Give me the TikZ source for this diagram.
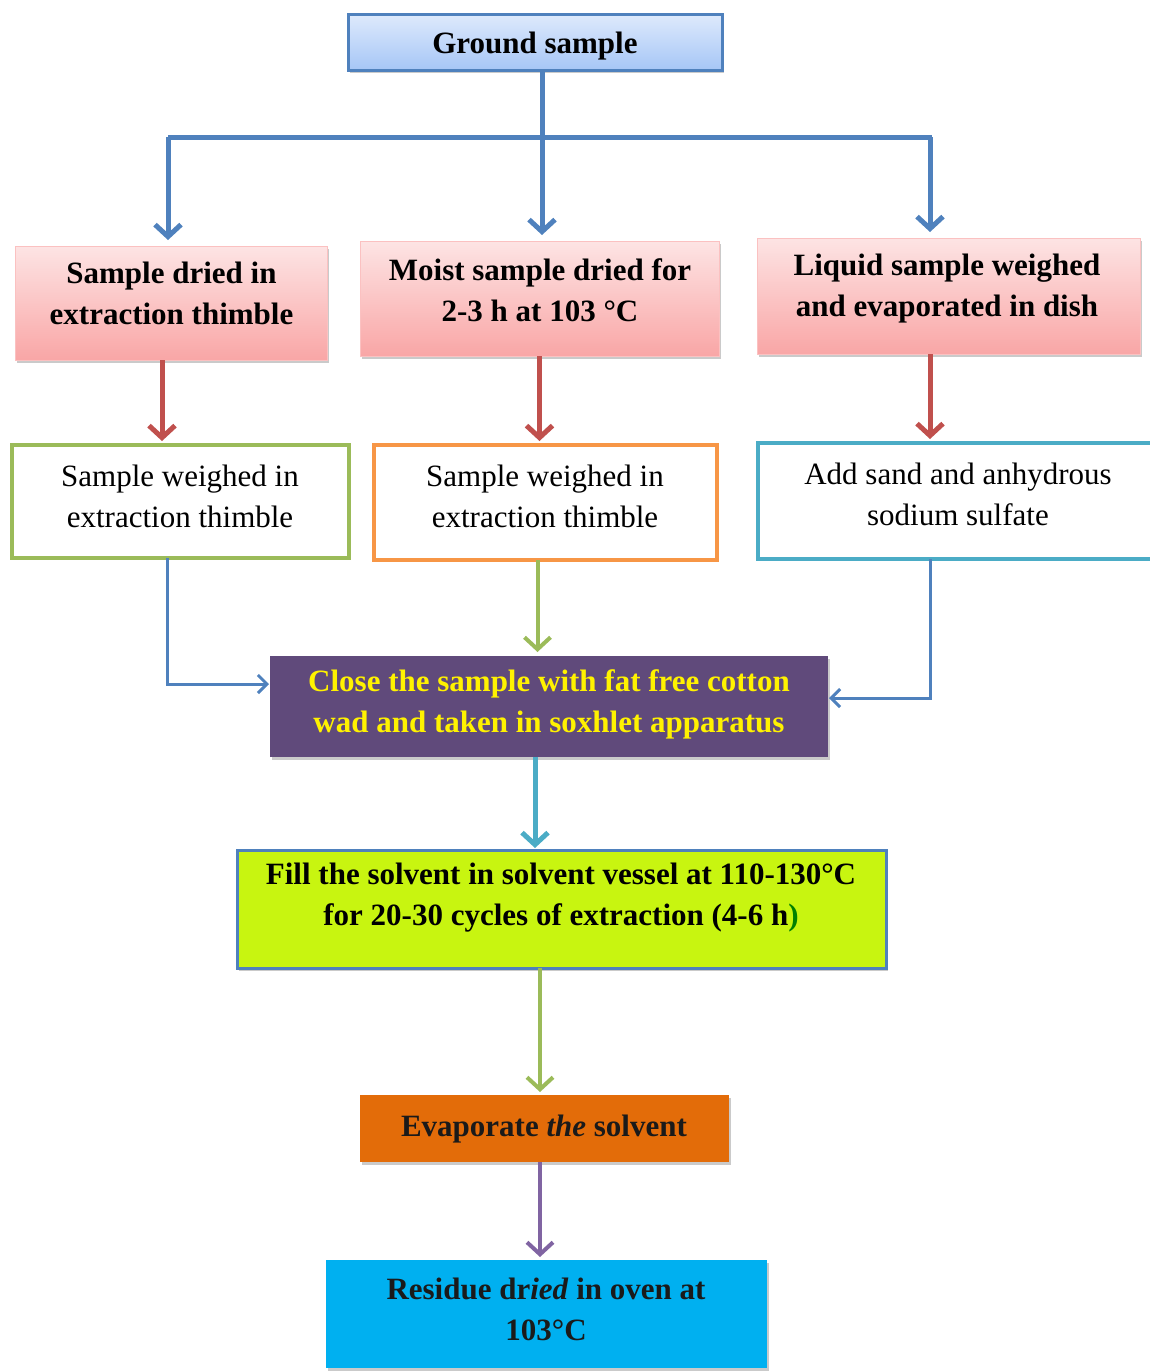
\documentclass[tikz,border=0pt]{standalone}
\usepackage{fontspec}
\setmainfont{Liberation Serif}
\usetikzlibrary{arrows.meta,shadows}

\definecolor{lineblue}{HTML}{4F81BD}
\definecolor{linered}{HTML}{C0504D}
\definecolor{linegreen}{HTML}{9BBB59}
\definecolor{lineorange}{HTML}{F79646}
\definecolor{lineteal}{HTML}{4BACC6}
\definecolor{linepurple}{HTML}{8064A2}
\definecolor{plum}{HTML}{604A7B}
\definecolor{limefill}{HTML}{C8F510}
\definecolor{orangefill}{HTML}{E36C09}
\definecolor{cyanfill}{HTML}{00B0F0}
\definecolor{pinktop}{HTML}{FDE4E4}
\definecolor{pinkbot}{HTML}{F9A6A6}
\definecolor{bluetop}{HTML}{DEEAFC}
\definecolor{bluebot}{HTML}{A6C6F6}
\definecolor{darkink}{HTML}{1A1A1A}

\begin{document}
\begin{tikzpicture}[x=1pt,y=-1pt,
  big/.style={font=\fontsize{31}{41}\selectfont},
  box/.style={rectangle,inner sep=0pt,outer sep=0pt},
  shade/.style={drop shadow={shadow xshift=1.5pt,shadow yshift=-3pt,opacity=.35,fill=black!60}},
  txt/.style={big,align=center,inner sep=0pt},
  btxt/.style={txt,font=\fontsize{31}{41}\selectfont\bfseries},
  topbox/.style={box,shade,top color=bluetop,bottom color=bluebot,draw=lineblue,line width=3pt},
  pinkbox/.style={box,shade,top color=pinktop,bottom color=pinkbot,draw=pinkbot!70!white,line width=0.6pt},
  whitebox/.style={box,fill=white,line width=4pt},
  bus/.style={draw=lineblue,line width=5pt},
  barb/.style={-{Straight Barb[length=12pt,width=26pt]}},
  smallbarb/.style={-{Straight Barb[length=9pt,width=18pt]}},
  busarrow/.style={bus,barb,shorten >=6pt},
  redarrow/.style={draw=linered,line width=5pt,barb,shorten >=4pt},
  thinarrow/.style={draw=lineblue,line width=3pt,smallbarb,shorten >=1pt},
]
\useasboundingbox (0,0) rectangle (1149,1371);

% boxes
\node[topbox,minimum width=374pt,minimum height=56pt] (gs) at (535,42) {};
\node[pinkbox,minimum width=312pt,minimum height=114pt] (p1) at (171,303) {};
\node[pinkbox,minimum width=359pt,minimum height=115pt] (p2) at (539.5,298.5) {};
\node[pinkbox,minimum width=383pt,minimum height=116pt] (p3) at (948.5,296) {};
\node[whitebox,draw=linegreen,minimum width=337pt,minimum height=113pt] (w1) at (180.5,501.5) {};
\node[whitebox,draw=lineorange,minimum width=343pt,minimum height=115pt] (w2) at (545.5,502.5) {};
\node[whitebox,draw=lineteal,minimum width=402pt,minimum height=116pt] (w3) at (959,501) {};
\node[box,shade,fill=plum,minimum width=558pt,minimum height=101pt] (cl) at (549,706.5) {};
\node[box,shade,fill=limefill,draw=lineblue,line width=3pt,minimum width=649pt,minimum height=118pt] (fs) at (561.5,909) {};
\node[box,shade,fill=orangefill,minimum width=369pt,minimum height=67pt] (ev) at (544.5,1128.5) {};
\node[box,shade,fill=cyanfill,minimum width=441pt,minimum height=108pt] (rd) at (546.5,1314) {};

% texts
\node[btxt] (gsT) at (535,46) {Ground sample};
\node[btxt] (p1T) at (171.5,293.5) {Sample dried in\\extraction thimble};
\node[btxt] (p2T) at (540,290.5) {Moist sample dried for\\2-3 h at 103 °C};
\node[btxt] (p3T) at (947,288.5) {Liquid sample weighed\\and evaporated in dish};
\node[txt] (w1T) at (180,496.5) {Sample weighed in\\extraction thimble};
\node[txt] (w2T) at (545,496.5) {Sample weighed in\\extraction thimble};
\node[txt] (w3T) at (958,494.5) {Add sand and anhydrous\\sodium sulfate};
\node[btxt,text=yellow] (clT) at (549,704.5) {Close the sample with fat free cotton\\wad and taken in soxhlet apparatus};
\node[btxt] (fsT) at (561,898) {Fill the solvent in solvent vessel at 110-130°C\\for 20-30 cycles of extraction (4-6 h\textcolor{green!50!black}{)}};
\node[btxt,text=darkink] (evT) at (544,1129) {Evaporate \textit{the} solvent};
\node[btxt,text=darkink] (rdT) at (546,1309.5) {Residue dr\textit{ied} in oven at\\103°C};

% branching bus
\coordinate (busM) at (542,137);
\coordinate (busL) at (168,137);
\coordinate (busR) at (932,137);
\draw[bus] ([xshift=7pt]gs.south) -- (busM);
\draw[bus] (busL) -- (busR);
\draw[busarrow] (busL) -- (busL |- p1.north);
\draw[busarrow] (busM) -- (busM |- p2.north);
\draw[busarrow] ([xshift=-2pt]busR) -- ([xshift=-2pt]busR |- p3.north);

% pink to white
\draw[redarrow] ([xshift=-9pt]p1.south) -- ([xshift=-9pt]p1.south |- w1.north);
\draw[redarrow] (p2.south) -- (p2.south |- w2.north);
\draw[redarrow] ([xshift=-18.5pt]p3.south) -- ([xshift=-18.5pt]p3.south |- w3.north);

% white to soxhlet step
\draw[thinarrow] ([xshift=-13.5pt]w1.south) |- ([yshift=22.5pt]cl.west);
\draw[draw=linegreen,line width=4pt,barb,shorten >=4pt] ([xshift=-8pt]w2.south) -- ([xshift=-8pt]w2.south |- cl.north);
\draw[thinarrow] ([xshift=-29pt]w3.south) |- ([yshift=8.5pt]cl.east);

% main sequence
\draw[draw=lineteal,line width=5pt,barb,shorten >=2pt] ([xshift=-14pt]cl.south) -- ([xshift=-14pt]cl.south |- fs.north);
\draw[draw=linegreen,line width=4pt,barb,shorten >=3pt] ([xshift=-21.5pt]fs.south) -- ([xshift=-21.5pt]fs.south |- ev.north);
\draw[draw=linepurple,line width=4pt,barb,shorten >=3pt] ([xshift=-4.5pt]ev.south) -- ([xshift=-4.5pt]ev.south |- rd.north);
\end{tikzpicture}
\end{document}
